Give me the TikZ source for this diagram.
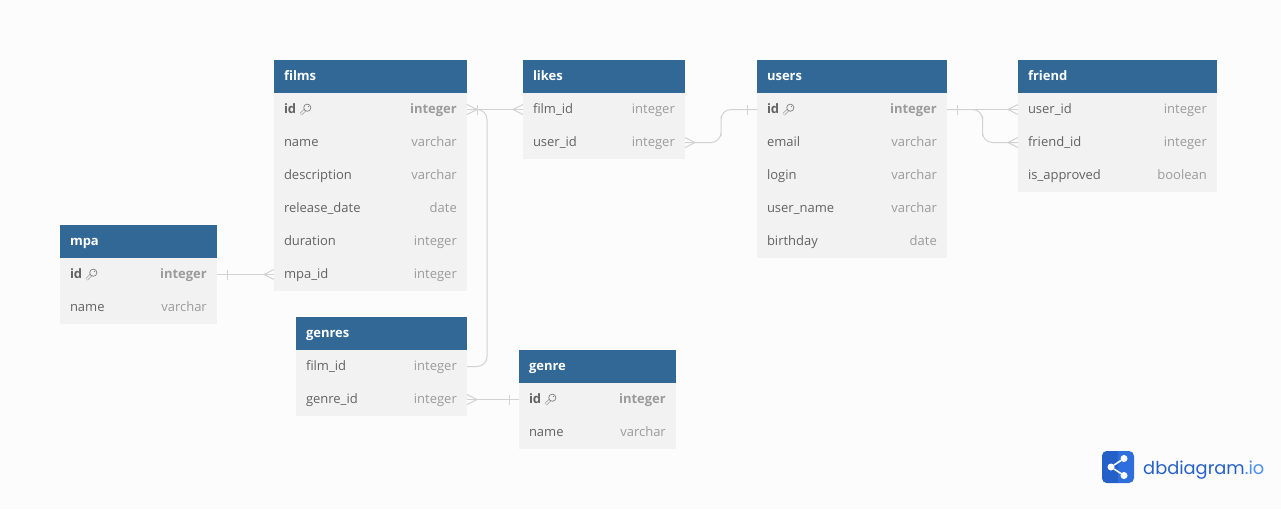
\documentclass[tikz,border=0pt]{standalone}
\usepackage{fontspec}
\setmainfont{Open Sans}
\newfontfamily\logofont{Poppins}
\usetikzlibrary{
  positioning,
  calc,
  decorations.markings
}
\definecolor{pagebg}{HTML}{FCFCFC}
\definecolor{headblue}{HTML}{316896}
\definecolor{rowgray}{HTML}{F2F2F2}
\definecolor{namegray}{HTML}{636363}
\definecolor{typegray}{HTML}{9B9B9B}
\definecolor{relgray}{HTML}{D2D2D2}
\definecolor{keygray}{HTML}{808080}
\definecolor{logoblue}{HTML}{2F6FDD}
\definecolor{logodark}{HTML}{2560C8}
\definecolor{logolight}{HTML}{4A90F0}

\begin{document}
\begin{tikzpicture}[
      x=1pt,y=-1pt,node distance=0pt,
      tablehead/.style={
         rectangle,
         anchor=north west,
         fill=headblue,
         text=white,
         outer sep=0pt,
         inner xsep=10pt,
         inner ysep=0pt,
         minimum height=33pt,
         text width=#1,
         align=left,
         font=\fontsize{13}{15}\selectfont\bfseries,
         text height=10pt,
         text depth=3pt
      },
      colrow/.style={
         rectangle,
         fill=rowgray,
         text=namegray,
         outer sep=0pt,
         inner xsep=10pt,
         inner ysep=0pt,
         minimum height=33pt,
         text width=#1,
         align=left,
         font=\fontsize{13}{15}\selectfont,
         text height=10pt,
         text depth=3pt
      },
      coltype/.style={
         anchor=east,
         text=typegray,
         inner xsep=10pt,
         inner ysep=0pt,
         font=\fontsize{13}{15}\selectfont,
         text height=10pt,
         text depth=3pt
      },
      keyrow/.style={font=\fontsize{13}{15}\selectfont\bfseries},
      key/.pic={
         \draw[keygray,line width=0.6pt,double=rowgray,double distance=1.5pt] (-4.8,4.8) -- (0,0);
         \draw[keygray,line width=0.7pt,fill=rowgray] (1.8,-1.8) circle (3.6pt);
         \fill[keygray] (3,-3) circle (0.6pt);
      },
      rel/.style={draw=relgray,line width=1pt,rounded corners=10pt},
      relmark/.style={draw=relgray,line width=1pt,sharp corners},
      one start/.style={postaction={decorate,decoration={markings,
         mark=at position 10pt with {\draw[relmark] (0,-5) -- (0,5);}}}},
      one end/.style={postaction={decorate,decoration={markings,
         mark=at position -10pt with {\draw[relmark] (0,-5) -- (0,5);}}}},
      many start/.style={postaction={decorate,decoration={markings,
         mark=at position 10pt with {\draw[relmark] (-10,-5) -- (0,0) -- (-10,5);}}}},
      many end/.style={postaction={decorate,decoration={markings,
         mark=at position -10pt with {\draw[relmark] (10,-5) -- (0,0) -- (10,5);}}}}
    ]
    \fill[pagebg] (0,0) rectangle (1281,509);
    \useasboundingbox (0,0) rectangle (1281,509);

    % films
    \node (films) [tablehead=173pt] at (274,60) {films};
    \node (films1) [colrow=173pt,keyrow,below=of films] {id};
    \node (films2) [colrow=173pt,below=of films1] {name};
    \node (films3) [colrow=173pt,below=of films2] {description};
    \node (films4) [colrow=173pt,below=of films3] {release\_date};
    \node (films5) [colrow=173pt,below=of films4] {duration};
    \node (films6) [colrow=173pt,below=of films5] {mpa\_id};
    \node (films1t) [coltype,keyrow] at (films1.east) {integer};
    \node (films2t) [coltype] at (films2.east) {varchar};
    \node (films3t) [coltype] at (films3.east) {varchar};
    \node (films4t) [coltype] at (films4.east) {date};
    \node (films5t) [coltype] at (films5.east) {integer};
    \node (films6t) [coltype] at (films6.east) {integer};
    \pic at ([xshift=31.5pt]films1.west) {key};

    % likes
    \node (likes) [tablehead=142pt] at (523,60) {likes};
    \node (likes1) [colrow=142pt,below=of likes] {film\_id};
    \node (likes2) [colrow=142pt,below=of likes1] {user\_id};
    \node (likes1t) [coltype] at (likes1.east) {integer};
    \node (likes2t) [coltype] at (likes2.east) {integer};

    % users
    \node (users) [tablehead=170pt] at (757,60) {users};
    \node (users1) [colrow=170pt,keyrow,below=of users] {id};
    \node (users2) [colrow=170pt,below=of users1] {email};
    \node (users3) [colrow=170pt,below=of users2] {login};
    \node (users4) [colrow=170pt,below=of users3] {user\_name};
    \node (users5) [colrow=170pt,below=of users4] {birthday};
    \node (users1t) [coltype,keyrow] at (users1.east) {integer};
    \node (users2t) [coltype] at (users2.east) {varchar};
    \node (users3t) [coltype] at (users3.east) {varchar};
    \node (users4t) [coltype] at (users4.east) {varchar};
    \node (users5t) [coltype] at (users5.east) {date};
    \pic at ([xshift=31.5pt]users1.west) {key};

    % friend
    \node (friend) [tablehead=179pt] at (1018,60) {friend};
    \node (friend1) [colrow=179pt,below=of friend] {user\_id};
    \node (friend2) [colrow=179pt,below=of friend1] {friend\_id};
    \node (friend3) [colrow=179pt,below=of friend2] {is\_approved};
    \node (friend1t) [coltype] at (friend1.east) {integer};
    \node (friend2t) [coltype] at (friend2.east) {integer};
    \node (friend3t) [coltype] at (friend3.east) {boolean};

    % mpa
    \node (mpa) [tablehead=137pt] at (60,225) {mpa};
    \node (mpa1) [colrow=137pt,keyrow,below=of mpa] {id};
    \node (mpa2) [colrow=137pt,below=of mpa1] {name};
    \node (mpa1t) [coltype,keyrow] at (mpa1.east) {integer};
    \node (mpa2t) [coltype] at (mpa2.east) {varchar};
    \pic at ([xshift=31.5pt]mpa1.west) {key};

    % genres
    \node (genres) [tablehead=151pt] at (296,317) {genres};
    \node (genres1) [colrow=151pt,below=of genres] {film\_id};
    \node (genres2) [colrow=151pt,below=of genres1] {genre\_id};
    \node (genres1t) [coltype] at (genres1.east) {integer};
    \node (genres2t) [coltype] at (genres2.east) {integer};

    % genre
    \node (genre) [tablehead=137pt] at (519,350) {genre};
    \node (genre1) [colrow=137pt,keyrow,below=of genre] {id};
    \node (genre2) [colrow=137pt,below=of genre1] {name};
    \node (genre1t) [coltype,keyrow] at (genre1.east) {integer};
    \node (genre2t) [coltype] at (genre2.east) {varchar};
    \pic at ([xshift=31.5pt]genre1.west) {key};

    % relations
    \draw[rel,one start,many end] (films1.east) -- (likes1.west);
    \draw[rel,many start] (films1.east) -- ++(20,0) |- (genres1.east);
    \draw[rel,one start,many end] (mpa1.east) -- (films6.west);
    \draw[rel,many start,one end] (genres2.east) -- (genre1.west);
    \draw[rel,many start,one end] (likes2.east) -| ($(likes2.east)!.5!(users1.west)$) |- (users1.west);
    \draw[rel,one start,many end] (users1.east) -- (friend1.west);
    \draw[rel,many end] (users1.east) -| ($(users1.east)!.5!(friend2.west)$) |- (friend2.west);

    % logo
    \node (logobox) [rectangle,rounded corners=5pt,fill=logoblue,minimum size=32pt,inner sep=0pt,outer sep=0pt] at (1118,467) {};
    \begin{scope}
      \clip[rounded corners=5pt] (1102,451) rectangle (1134,483);
      \fill[logodark] (1102,451) rectangle (1118,483);
    \end{scope}
    \node (sharea) [circle,fill=white,minimum size=7pt,inner sep=0pt] at (1111,467) {};
    \node (shareb) [circle,fill=white,minimum size=7pt,inner sep=0pt] at (1124,458.5) {};
    \node (sharec) [circle,fill=white,minimum size=7pt,inner sep=0pt] at (1124,475.5) {};
    \draw[white,line width=1.6pt] (shareb) -- (sharea) -- (sharec);
    \node (logotext) [anchor=west,inner sep=0pt,text=logodark,font=\logofont\fontsize{17.8}{22}\selectfont,text height=14pt,text depth=0pt] at (1143,467) {dbdiagram\textcolor{logolight}{.io}};
\end{tikzpicture}
\end{document}
